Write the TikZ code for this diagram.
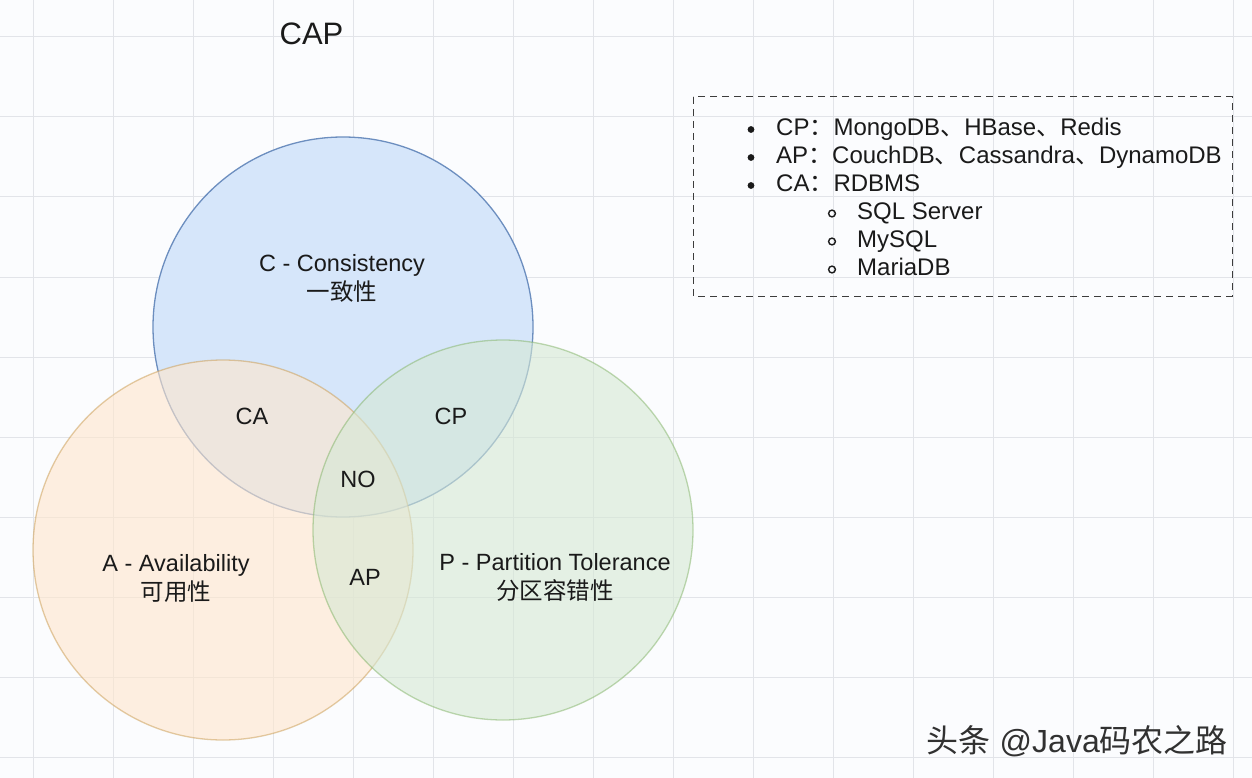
\documentclass[tikz,border=0pt]{standalone}
\usepackage{fontspec}
\setmainfont{Liberation Sans}
\newfontfamily\cjk{Noto Sans CJK SC}
\usepackage{tikz}

\definecolor{paper}{HTML}{FBFCFE}
\definecolor{gridgray}{HTML}{E2E4E9}
\definecolor{cfill}{HTML}{D6E6FA}
\definecolor{cline}{HTML}{6C8EBF}
\definecolor{afill}{HTML}{FFE6CC}
\definecolor{aline}{HTML}{C99A4E}
\definecolor{pfill}{HTML}{D5E8D4}
\definecolor{pline}{HTML}{82B366}
\definecolor{ink}{HTML}{1A1A1A}

\newcommand{\lblsize}{\fontsize{23.5}{29}\selectfont}
\newcommand{\boxsize}{\fontsize{24}{28}\selectfont}

\tikzset{
  gridline/.style={draw=gridgray, line width=1pt},
  setC/.style={draw=cline, fill=cfill, line width=1.3pt},
  setA/.style={draw=aline, fill=afill, line width=1.3pt, draw opacity=0.5, fill opacity=0.6},
  setP/.style={draw=pline, fill=pfill, line width=1.3pt, draw opacity=0.5, fill opacity=0.6},
  vennlbl/.style={inner sep=0pt, align=center, text=ink, font=\lblsize},
  boxline/.style={inner sep=0pt, anchor=base west, text=ink, font=\boxsize},
}

\begin{document}
\begin{tikzpicture}[x=1pt, y=-1pt]
  % paper + grid
  \fill[paper] (0,0) rectangle (1252,778);
  \useasboundingbox (0,0) rectangle (1252,778);
  \draw[gridline] (33,0) -- (33,778);
  \draw[gridline] (113,0) -- (113,778);
  \draw[gridline] (193,0) -- (193,778);
  \draw[gridline] (273,0) -- (273,778);
  \draw[gridline] (353,0) -- (353,778);
  \draw[gridline] (433,0) -- (433,778);
  \draw[gridline] (513,0) -- (513,778);
  \draw[gridline] (593,0) -- (593,778);
  \draw[gridline] (673,0) -- (673,778);
  \draw[gridline] (753,0) -- (753,778);
  \draw[gridline] (833,0) -- (833,778);
  \draw[gridline] (913,0) -- (913,778);
  \draw[gridline] (993,0) -- (993,778);
  \draw[gridline] (1073,0) -- (1073,778);
  \draw[gridline] (1153,0) -- (1153,778);
  \draw[gridline] (1233,0) -- (1233,778);
  \draw[gridline] (0,37) -- (1252,37);
  \draw[gridline] (0,117) -- (1252,117);
  \draw[gridline] (0,197) -- (1252,197);
  \draw[gridline] (0,277) -- (1252,277);
  \draw[gridline] (0,357) -- (1252,357);
  \draw[gridline] (0,437) -- (1252,437);
  \draw[gridline] (0,517) -- (1252,517);
  \draw[gridline] (0,597) -- (1252,597);
  \draw[gridline] (0,677) -- (1252,677);
  \draw[gridline] (0,757) -- (1252,757);

  \node[font=\fontsize{31}{36}\selectfont, text=ink, inner sep=0pt] (cap) at (311.5,34) {CAP};

  % the three sets
  \draw[setC] (343,327) circle[radius=190];
  \draw[setA] (223,550) circle[radius=190];
  \draw[setP] (503,530) circle[radius=190];

  \node[vennlbl] (cLbl) at (342,278) {C - Consistency\\{\cjk 一致性}};
  \node[vennlbl] (aLbl) at (176,578) {A - Availability\\{\cjk 可用性}};
  \node[vennlbl] (pLbl) at (555,577) {P - Partition Tolerance\\{\cjk 分区容错性}};
  \node[vennlbl] (ca) at (252,416) {CA};
  \node[vennlbl] (cp) at (451,416) {CP};
  \node[vennlbl] (no) at (358,479) {NO};
  \node[vennlbl] (ap) at (365,577) {AP};

  % legend
  \draw[draw=ink!85, line width=1pt, dash pattern=on 7pt off 5pt] (693,97) rectangle (1232,296);
  \fill[ink] (751,129.5) circle[radius=3.4];
  \fill[ink] (751,157.5) circle[radius=3.4];
  \fill[ink] (751,185.5) circle[radius=3.4];
  \draw[ink, line width=1.4pt] (832,213.5) circle[radius=3.4];
  \draw[ink, line width=1.4pt] (832,241.5) circle[radius=3.4];
  \draw[ink, line width=1.4pt] (832,269.5) circle[radius=3.4];
  \node[boxline] (lgCP) at (776,135.5) {CP{\cjk ：}MongoDB{\cjk 、}HBase{\cjk 、}Redis};
  \node[boxline] (lgAP) at (776,163.5) {AP{\cjk ：}CouchDB{\cjk 、}Cassandra{\cjk 、}DynamoDB};
  \node[boxline] (lgCA) at (776,191.5) {CA{\cjk ：}RDBMS};
  \node[boxline] (lgSQL) at (857,219.5) {SQL Server};
  \node[boxline] (lgMy) at (857,247.5) {MySQL};
  \node[boxline] (lgMaria) at (857,275.5) {MariaDB};

  \node[anchor=east, inner sep=0pt, text=ink!90, font=\fontsize{32}{36}\selectfont] (mark) at (1228,741) {{\cjk 头条} @Java{\cjk 码农之路}};
\end{tikzpicture}
\end{document}
